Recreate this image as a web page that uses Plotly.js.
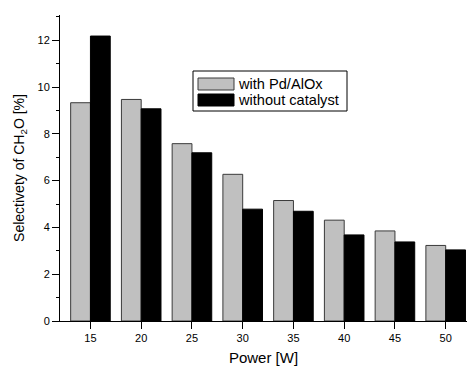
<!DOCTYPE html>
<html>
<head>
<meta charset="utf-8">
<script src="https://cdn.plot.ly/plotly-3.0.1.min.js"></script>
<style>html,body{margin:0;padding:0;background:#fff;}#chart{width:467px;height:367px;}</style>
</head>
<body>
<div id="chart"></div>
<script>
const powers = [15, 20, 25, 30, 35, 40, 45, 50];
const withCatalyst = [9.33, 9.47, 7.58, 6.27, 5.15, 4.31, 3.85, 3.23];
const withoutCatalyst = [12.18, 9.07, 7.19, 4.78, 4.69, 3.68, 3.38, 3.04];
const seriesNames = ['with Pd/AlOx', 'without catalyst'];
const seriesColors = ['#c0c0c0', '#000000'];
const seriesLines = ['#3a3a3a', '#000000'];
const xTicks = [15, 20, 25, 30, 35, 40, 45, 50];

const font = {family: 'Liberation Sans, Arial, sans-serif', color: '#000'};

const traces = [
  {type: 'bar', x: powers, y: withCatalyst, name: seriesNames[0],
   marker: {color: seriesColors[0], line: {color: seriesLines[0], width: 1}}},
  {type: 'bar', x: powers, y: withoutCatalyst, name: seriesNames[1],
   marker: {color: seriesColors[1], line: {color: seriesLines[1], width: 1}}}
];

// plot-area geometry (pixels) used to place the hand-drawn legend box
const L = 60, T = 15, W = 407, H = 306;
const px = p => (p - L) / W;
const py = p => (T + H - p) / H;

const shapes = [
  {type: 'rect', xref: 'paper', yref: 'paper', x0: px(193), x1: px(347), y0: py(71), y1: py(111),
   line: {color: '#000', width: 1}, fillcolor: '#fff'}
];
const annotations = [];
const rows = [[78, 90], [94, 106]];
seriesNames.forEach((nm, i) => {
  shapes.push({type: 'rect', xref: 'paper', yref: 'paper', x0: px(198), x1: px(234),
    y0: py(rows[i][0]), y1: py(rows[i][1]),
    line: {color: seriesLines[i], width: 1}, fillcolor: seriesColors[i]});
  annotations.push({xref: 'paper', yref: 'paper', x: px(236), y: py((rows[i][0] + rows[i][1]) / 2),
    xanchor: 'left', yanchor: 'middle', showarrow: false, text: nm,
    font: Object.assign({size: 14.6}, font)});
});

const layout = {
  width: 467, height: 367,
  margin: {l: L, r: 0, t: T, b: 46},
  paper_bgcolor: '#fff', plot_bgcolor: '#fff',
  barmode: 'group', bargap: 0.22, bargroupgap: 0,
  font: Object.assign({size: 11}, font),
  showlegend: false,
  shapes: shapes,
  annotations: annotations,
  xaxis: {range: [12, 52.1], tickvals: xTicks, ticktext: xTicks.map(String),
    ticks: 'outside', ticklen: 7, tickwidth: 1, tickcolor: '#000',
    showline: true, linecolor: '#000', linewidth: 1, showgrid: false, zeroline: false,
    tickfont: Object.assign({size: 11}, font),
    title: {text: 'Power [W]', font: Object.assign({size: 15}, font), standoff: 9}},
  yaxis: {range: [0, 13.08], dtick: 2, tick0: 0,
    ticks: 'outside', ticklen: 7, tickwidth: 1, tickcolor: '#000',
    minor: {dtick: 1, ticks: 'outside', ticklen: 3, tickcolor: '#000', showgrid: false},
    showline: true, linecolor: '#000', linewidth: 1, showgrid: false, zeroline: false,
    tickfont: Object.assign({size: 11}, font),
    title: {text: 'Selectivety of CH<sub>2</sub>O [%]', font: Object.assign({size: 14}, font), standoff: 9}}
};

Plotly.newPlot('chart', traces, layout, {staticPlot: true, displayModeBar: false});
</script>
</body>
</html>
